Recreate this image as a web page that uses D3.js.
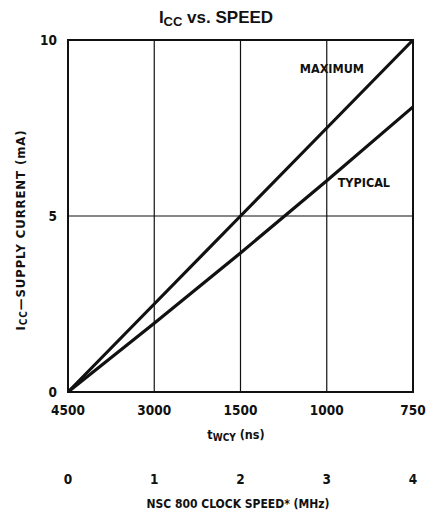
<!DOCTYPE html>
<html>
<head>
<meta charset="utf-8">
<script src="https://cdn.jsdelivr.net/npm/d3@7"></script>
<style>
  body { margin: 0; background: #fff; }
  text { fill: #111; }
</style>
</head>
<body>
<div id="chart"></div>
<script>
'use strict';

// clock speed in MHz, with matching tWCY cycle times
const speedTicks = [0, 1, 2, 3, 4];
const twcyLabels = ['4500', '3000', '1500', '1000', '750'];
const currentTicks = [0, 5, 10];

const maximumValues = [0, 2.5, 5, 7.5, 10];
const typicalValues = [0, 1.95, 3.95, 6.0, 8.1];

const width = 427;
const height = 516;
const margin = { left: 68, right: 14, top: 40, bottom: 124 };
const chartWidth = width - margin.left - margin.right;
const chartHeight = height - margin.top - margin.bottom;
const narrow = '"DejaVu Sans Condensed", "Liberation Sans Narrow", Arial, sans-serif';

const svg = d3.select('#chart')
    .append('svg')
    .attr('width', width)
    .attr('height', height);

const chart = svg.append('g')
    .attr('transform', `translate(${margin.left},${margin.top})`);

const xScale = d3.scaleLinear()
    .domain([0, 4])
    .range([0, chartWidth]);

const yScale = d3.scaleLinear()
    .domain([0, 10])
    .range([chartHeight, 0]);

// inner grid
chart.selectAll('line.vgrid')
    .data(speedTicks.slice(1, -1))
    .join('line')
    .attr('class', 'vgrid')
    .attr('x1', function (d) { return xScale(d); })
    .attr('x2', function (d) { return xScale(d); })
    .attr('y1', 0)
    .attr('y2', chartHeight)
    .attr('stroke', '#111')
    .attr('stroke-width', 1.2);

chart.selectAll('line.hgrid')
    .data([5])
    .join('line')
    .attr('class', 'hgrid')
    .attr('x1', 0)
    .attr('x2', chartWidth)
    .attr('y1', function (d) { return yScale(d); })
    .attr('y2', function (d) { return yScale(d); })
    .attr('stroke', '#111')
    .attr('stroke-width', 1.2);

chart.append('rect')
    .attr('x', 0)
    .attr('y', 0)
    .attr('width', chartWidth)
    .attr('height', chartHeight)
    .attr('fill', 'none')
    .attr('stroke', '#111')
    .attr('stroke-width', 2);

// data lines
const line = d3.line()
    .x(function (d, i) { return xScale(speedTicks[i]); })
    .y(function (d) { return yScale(d); });

[maximumValues, typicalValues].forEach(function (values) {
    chart.append('path')
        .datum(values)
        .attr('d', line)
        .attr('fill', 'none')
        .attr('stroke', '#111')
        .attr('stroke-width', 3.2);
});

chart.append('text')
    .attr('x', xScale(3.06))
    .attr('y', yScale(9.06))
    .attr('text-anchor', 'middle')
    .attr('font-family', narrow)
    .attr('font-weight', 700)
    .attr('font-size', 12.5)
    .text('MAXIMUM');

chart.append('text')
    .attr('x', xScale(3.43))
    .attr('y', yScale(5.82))
    .attr('text-anchor', 'middle')
    .attr('font-family', narrow)
    .attr('font-weight', 700)
    .attr('font-size', 12.5)
    .text('TYPICAL');

// y tick labels
chart.selectAll('text.ytick')
    .data(currentTicks)
    .join('text')
    .attr('class', 'ytick')
    .attr('x', -11)
    .attr('y', function (d) { return yScale(d) + 5; })
    .attr('text-anchor', 'end')
    .attr('font-family', narrow)
    .attr('font-weight', 700)
    .attr('font-size', 13.5)
    .text(function (d) { return d; });

// tWCY tick labels
chart.selectAll('text.twcy')
    .data(twcyLabels)
    .join('text')
    .attr('class', 'twcy')
    .attr('x', function (d, i) { return xScale(speedTicks[i]); })
    .attr('y', chartHeight + 23)
    .attr('text-anchor', 'middle')
    .attr('font-family', narrow)
    .attr('font-weight', 700)
    .attr('font-size', 13.5)
    .text(function (d) { return d; });

// MHz tick labels
chart.selectAll('text.mhz')
    .data(speedTicks)
    .join('text')
    .attr('class', 'mhz')
    .attr('x', function (d) { return xScale(d); })
    .attr('y', chartHeight + 92)
    .attr('text-anchor', 'middle')
    .attr('font-family', narrow)
    .attr('font-weight', 700)
    .attr('font-size', 13.5)
    .text(function (d) { return d; });

// axis titles
const twcyTitle = chart.append('text')
    .attr('x', 168)
    .attr('y', chartHeight + 47)
    .attr('text-anchor', 'middle')
    .attr('font-family', narrow)
    .attr('font-weight', 700)
    .attr('font-size', 12.5);
twcyTitle.append('tspan').text('t');
twcyTitle.append('tspan').attr('font-size', 10).attr('dy', 2).text('WCY');
twcyTitle.append('tspan').attr('dy', -2).text(' (ns)');

chart.append('text')
    .attr('x', 170)
    .attr('y', chartHeight + 116)
    .attr('text-anchor', 'middle')
    .attr('font-family', narrow)
    .attr('font-weight', 700)
    .attr('font-size', 12)
    .text('NSC 800 CLOCK SPEED* (MHz)');

const yTitle = chart.append('text')
    .attr('transform', 'rotate(-90)')
    .attr('x', -190)
    .attr('y', -43)
    .attr('text-anchor', 'middle')
    .attr('font-family', narrow)
    .attr('font-weight', 700)
    .attr('font-size', 13)
    .attr('letter-spacing', 0.9);
yTitle.append('tspan').text('I');
yTitle.append('tspan').attr('font-size', 10).attr('dy', 2).text('CC');
yTitle.append('tspan').attr('dy', -2).text('\u2014SUPPLY CURRENT (mA)');

// chart title
const title = svg.append('text')
    .attr('x', 216)
    .attr('y', 23)
    .attr('text-anchor', 'middle')
    .attr('font-family', '"Liberation Sans", Arial, sans-serif')
    .attr('font-weight', 700)
    .attr('font-size', 17);
title.append('tspan').text('I');
title.append('tspan').attr('font-size', 13).attr('dy', 3).text('CC');
title.append('tspan').attr('dy', -3).text(' vs. SPEED');
</script>
</body>
</html>
